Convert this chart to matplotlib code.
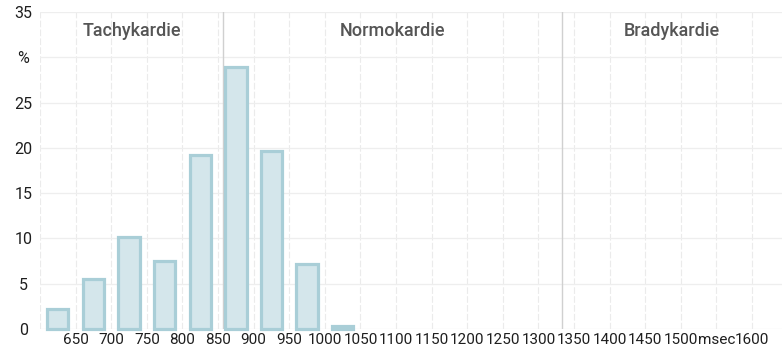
import matplotlib
matplotlib.use("Agg")
import matplotlib.pyplot as plt
import matplotlib.transforms as mtrans

# RR-interval histogram (msec), share of beats in %
bin_centers = [625, 675, 725, 775, 825, 875, 925, 975, 1025]
percent = [2.2, 5.5, 10.2, 7.5, 19.2, 28.9, 19.7, 7.2, 0.3]

tick_pos = list(range(650, 1601, 50))
tick_labels = [str(v) for v in tick_pos]
tick_labels[tick_labels.index("1550")] = "msec"

y_ticks = [0, 5, 10, 15, 20, 25, 30, 35]
y_labels = ["0", "5", "10", "15", "20", "25", "%", "35"]

# zone borders: 70 bpm and 45 bpm as RR interval
zone_borders = [60000 / 70, 60000 / 45]
zone_names = ["Tachykardie", "Normokardie", "Bradykardie"]

plt.rcParams["font.family"] = ["Roboto", "DejaVu Sans"]

fig = plt.figure(figsize=(7.82, 3.56), dpi=100)
ax = fig.add_axes([40 / 782, 27 / 356, 742 / 782, 317 / 356])

x_min, x_max = 600, 1642
ax.set_xlim(x_min, x_max)
ax.set_ylim(0, 35)

# grid
for v in range(600, 1700, 50):
    ax.axvline(v, color="#ebebeb", lw=0.8, ls=(0, (6, 2)), zorder=0)
for v in y_ticks:
    ax.axhline(v, color="#eeeeee", lw=0.9, zorder=0)

# zone separators
for b in zone_borders:
    ax.axvline(b, color="#d0d0d0", lw=1.0, zorder=1)

ax.bar(bin_centers, percent, width=30, color="#d4e6eb", edgecolor="#a9ced7",
       linewidth=2.3, zorder=2, clip_on=False)

edges = [x_min] + zone_borders + [x_max]
for name, a, b in zip(zone_names, edges[:-1], edges[1:]):
    ax.text((a + b) / 2, 32.9, name, ha="center", va="center",
            fontsize=13, color="#555555", fontweight="medium")

ax.set_xticks(tick_pos)
ax.set_xticklabels(tick_labels, fontsize=11, color="#1e1e1e")
for lab in ax.get_xticklabels():
    lab.set_transform(lab.get_transform() + mtrans.Affine2D().translate(-4, 0))

ax.set_yticks(y_ticks)
ax.set_yticklabels(y_labels, fontsize=11.5, color="#1e1e1e")
for lab in ax.get_yticklabels():
    lab.set_ha("center")

ax.tick_params(axis="x", length=0, pad=3)
ax.tick_params(axis="y", length=0, pad=12)

for s in ax.spines.values():
    s.set_visible(False)

fig.savefig("out.png", dpi=100)
